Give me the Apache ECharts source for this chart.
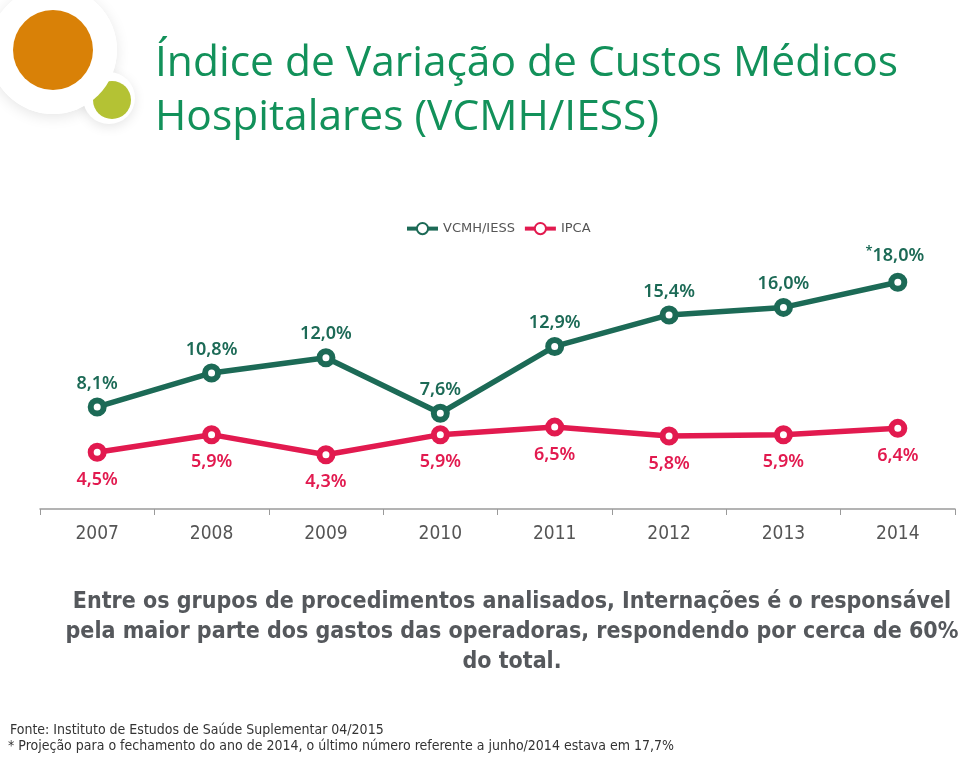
<!DOCTYPE html>
<html>
<head>
<meta charset="utf-8">
<style>
html,body{margin:0;padding:0;background:#fff;}
#chart{width:960px;height:758px;}
</style>
<script src="https://cdn.jsdelivr.net/npm/echarts@6/dist/echarts.min.js"></script>
</head>
<body>
<div id="chart"></div>
<script>
var years = ['2007','2008','2009','2010','2011','2012','2013','2014'];
var vcmh = [8.1, 10.8, 12.0, 7.6, 12.9, 15.4, 16.0, 18.0];
var ipca = [4.5, 5.9, 4.3, 5.9, 6.5, 5.8, 5.9, 6.4];
var seriesNames = ['VCMH/IESS', 'IPCA'];
var projectedIndex = 7; // 2014 value is a projection (marked with *)

var GREEN = '#1c6a56';
var PINK = '#e21a4f';

function fmt(v){ return v.toFixed(1).replace('.', ',') + '%'; }

var vcmhData = vcmh.map(function(v, i){
  if (i === projectedIndex) {
    return { value: v, label: { formatter: function(p){ return '{a|*}{b|' + fmt(p.value) + '}'; }, offset: [-3, 0] } };
  }
  return v;
});

var chart = echarts.init(document.getElementById('chart'), null, {renderer: 'canvas'});
var labelFont = '"Noto Sans", sans-serif';

chart.setOption({
  backgroundColor: '#ffffff',
  animation: false,
  legend: {
    data: seriesNames,
    left: 400,
    top: 217,
    itemWidth: 31,
    itemHeight: 14,
    itemGap: 8,
    lineStyle: { width: 4 },
    textStyle: { color: '#555555', fontSize: 13, fontFamily: '"DejaVu Sans", sans-serif' }
  },
  grid: { left: 40, right: 5, top: 257, bottom: 249, containLabel: false },
  xAxis: {
    type: 'category',
    data: years,
    boundaryGap: true,
    axisLine: { lineStyle: { color: '#9a9a9a', width: 1.5 } },
    axisTick: { show: true, length: 6, lineStyle: { color: '#9a9a9a' } },
    axisLabel: { color: '#555555', fontSize: 19, margin: 16, fontFamily: '"Liberation Sans Narrow", "DejaVu Sans Condensed", sans-serif' },
    splitLine: { show: false }
  },
  yAxis: {
    type: 'value',
    min: 0,
    max: 20,
    show: false,
    splitLine: { show: false }
  },
  series: [
    {
      name: seriesNames[0],
      type: 'line',
      data: vcmhData,
      color: GREEN,
      symbol: 'circle',
      symbolSize: 13,
      lineStyle: { width: 5.5, color: GREEN },
      itemStyle: { color: '#ffffff', borderColor: GREEN, borderWidth: 6 },
      label: {
        show: true,
        position: 'top',
        distance: 5,
        color: GREEN,
        fontSize: 18,
        fontWeight: 600,
        fontFamily: labelFont,
        formatter: function(p){ return fmt(p.value); },
        rich: {
          a: { fontSize: 13, fontWeight: 600, color: GREEN, fontFamily: labelFont, padding: [0, 0, 10, 0] },
          b: { fontSize: 18, fontWeight: 600, color: GREEN, fontFamily: labelFont }
        }
      },
      z: 3
    },
    {
      name: seriesNames[1],
      type: 'line',
      data: ipca,
      color: PINK,
      symbol: 'circle',
      symbolSize: 13,
      lineStyle: { width: 5.5, color: PINK },
      itemStyle: { color: '#ffffff', borderColor: PINK, borderWidth: 6 },
      label: {
        show: true,
        position: 'bottom',
        distance: 9,
        color: PINK,
        fontSize: 18,
        fontWeight: 600,
        fontFamily: labelFont,
        formatter: function(p){ return fmt(p.value); }
      },
      z: 2
    }
  ],
  graphic: [
    // logo
    { type: 'circle', shape: { cx: 53, cy: 50, r: 64 }, style: { fill: '#ffffff', shadowBlur: 14, shadowColor: 'rgba(0,0,0,0.10)', shadowOffsetY: 3 }, z: 1 },
    { type: 'circle', shape: { cx: 109, cy: 98, r: 26 }, style: { fill: '#ffffff', shadowBlur: 12, shadowColor: 'rgba(0,0,0,0.10)', shadowOffsetY: 3 }, z: 1 },
    { type: 'circle', shape: { cx: 112, cy: 100, r: 19 }, style: { fill: '#b4c234' }, z: 2 },
    { type: 'circle', shape: { cx: 53, cy: 50, r: 64 }, style: { fill: '#ffffff' }, z: 3 },
    { type: 'circle', shape: { cx: 53, cy: 50, r: 40 }, style: { fill: '#d98107' }, z: 4 },
    // title
    { type: 'text', left: 155, top: 37, style: { text: 'Índice de Variação de Custos Médicos\nHospitalares (VCMH/IESS)', fill: '#12915a', font: '42.5px "Open Sans", sans-serif', lineHeight: 54 }, z: 5 },
    // paragraph
    { type: 'text', x: 512, y: 587, style: { text: 'Entre os grupos de procedimentos analisados, Internações é o responsável\npela maior parte dos gastos das operadoras, respondendo por cerca de 60%\ndo total.', fill: '#55585c', font: 'bold 23px "DejaVu Sans Condensed", sans-serif', lineHeight: 30, align: 'center', verticalAlign: 'top' }, z: 5 },
    // footer
    { type: 'text', x: 10, y: 723, style: { text: 'Fonte: Instituto de Estudos de Saúde Suplementar 04/2015', fill: '#333333', font: '14px "DejaVu Sans Condensed", sans-serif' }, z: 5 },
    { type: 'text', x: 8, y: 739, style: { text: '* Projeção para o fechamento do ano de 2014, o último número referente a junho/2014 estava em 17,7%', fill: '#333333', font: '14px "DejaVu Sans Condensed", sans-serif' }, z: 5 }
  ]
});
</script>
</body>
</html>
